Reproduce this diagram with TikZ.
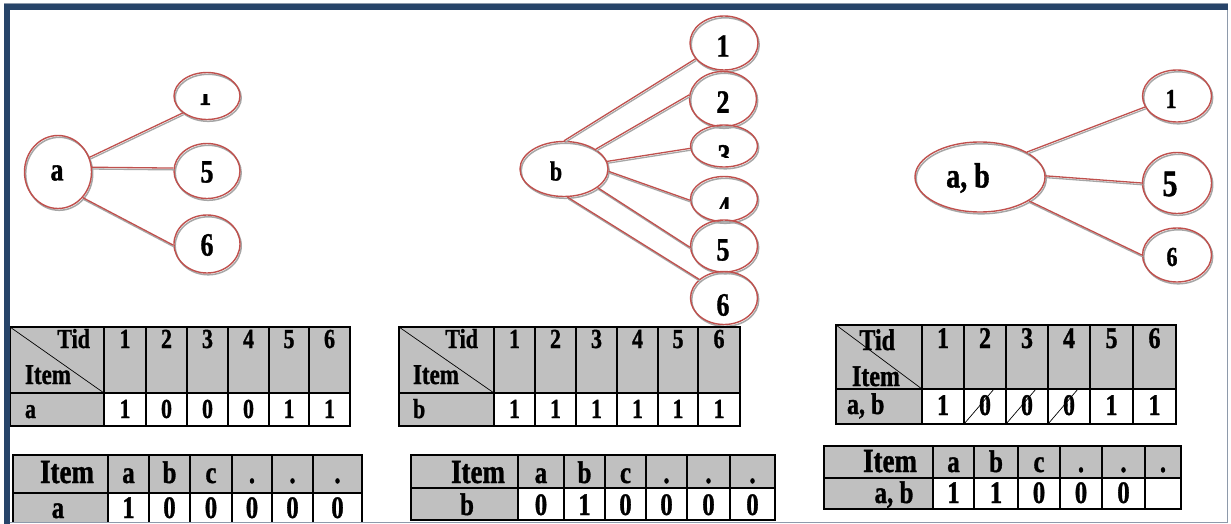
\documentclass[tikz,border=0pt]{standalone}
\usepackage{fontspec}
\setmainfont{Liberation Serif}[BoldFeatures={FakeBold=1.2}]
\usepackage{graphicx}
\usetikzlibrary{shapes.geometric}
\definecolor{nodered}{HTML}{C0504D}
\definecolor{shade}{HTML}{A6A6A6}
\definecolor{cellgray}{HTML}{C0C0C0}
\definecolor{framedark}{HTML}{274469}
\definecolor{frameline}{HTML}{8E9AAB}
% bold label, slightly stretched vertically
\newcommand\lbl[2]{\fontsize{#1}{#1}\selectfont\bfseries\scalebox{1}[1.25]{#2}}
\begin{document}
\begin{tikzpicture}[x=1pt,y=-1pt,
  bub/.style={ellipse, draw=nodered, line width=1.4pt, inner sep=0pt,
    preaction={draw=shade, line width=1.5pt, transform canvas={shift={(1.2pt,-1.8pt)}}}},
  link/.style={draw=nodered, line width=1.3pt,
    preaction={draw=shade, line width=1.3pt, transform canvas={shift={(0.8pt,-1.8pt)}}}},
  rule/.style={draw=black, line width=1.7pt},
  thinrule/.style={draw=black, line width=0.7pt},
  txt/.style={inner sep=0pt, outer sep=0pt}]
\useasboundingbox (0,0) rectangle (1231,524);
\fill[white] (0,0) rectangle (1231,524);

\begin{scope}
\clip (10,10) rectangle (1227,521.5);

% ---------- graph of item a ----------
\node[bub, minimum width=67pt, minimum height=73pt] (a) at (58,172) {};
\node[bub, minimum width=66pt, minimum height=47pt] (a1) at (207,96) {};
\node[bub, minimum width=66pt, minimum height=55pt] (a5) at (207,171) {};
\node[bub, minimum width=66pt, minimum height=58pt] (a6) at (207,244) {};
\draw[link] (a.25) -- (a1.215);
\draw[link] (a.8) -- (a5.175);
\draw[link] (a.-46) -- (a6.182);
\node[txt] (a-l) at (57,173) {\lbl{26}{a}};
\node[txt] (a5-l) at (207,172) {\lbl{26}{5}};
\node[txt] (a6-l) at (207,245) {\lbl{26}{6}};
\begin{scope}
  \clip (170,95) rectangle (240,125);
  \node[txt, anchor=base] (a1-l) at (205,105) {\lbl{25}{1}};
\end{scope}

% ---------- graph of item b ----------
\node[bub, minimum width=88pt, minimum height=55pt] (b) at (564,169) {};
\node[bub, minimum width=68pt, minimum height=54pt] (b1) at (724,43) {};
\node[bub, minimum width=67pt, minimum height=55pt] (b2) at (723,99) {};
\node[bub, minimum width=67pt, minimum height=42pt] (b3) at (724,146) {};
\node[bub, minimum width=67pt, minimum height=45pt] (b4) at (724,199) {};
\node[bub, minimum width=67pt, minimum height=52pt] (b5) at (724,246) {};
\node[bub, minimum width=67pt, minimum height=53pt] (b6) at (724,298) {};
\draw[link] (b.90) -- (b1.209);
\draw[link] (b.32) -- (b2.173);
\draw[link] (b.10) -- (b3.184);
\draw[link] (b.-3) -- (b4.182);
\draw[link] (b.-29) -- (b5.182);
\draw[link] (b.-83) -- (b6.143);
\node[txt] (b-l) at (556,171) {\lbl{22}{b}};
\node[txt] (b1-l) at (723,46) {\lbl{26}{1}};
\node[txt] (b2-l) at (723,102) {\lbl{26}{2}};
\begin{scope}
  \clip (690,140) rectangle (760,157);
  \node[txt] (b3-l) at (724,156) {\lbl{26}{3}};
\end{scope}
\begin{scope}
  \clip (690,190) rectangle (760,208);
  \node[txt] (b4-l) at (724,208) {\lbl{26}{4}};
\end{scope}
\node[txt] (b5-l) at (723,250) {\lbl{26}{5}};
\node[txt] (b6-l) at (723,305) {\lbl{26}{6}};

% ---------- graph of itemset a, b ----------
\node[bub, minimum width=130pt, minimum height=70pt] (ab) at (980,177) {};
\node[bub, minimum width=69pt, minimum height=52pt] (ab1) at (1177,96) {};
\node[bub, minimum width=69pt, minimum height=61pt] (ab5) at (1177,183) {};
\node[bub, minimum width=69pt, minimum height=54pt] (ab6) at (1177,255) {};
\draw[link] (ab.28) -- (ab1.199);
\draw[link] (ab.1) -- (ab5.180);
\draw[link] (ab.-26) -- (ab6.180);
\node[txt] (ab-l) at (968,178) {\lbl{28}{a, b}};
\node[txt] (ab1-l) at (1171,99) {\lbl{22}{1}};
\node[txt] (ab5-l) at (1170,184) {\lbl{30}{5}};
\node[txt] (ab6-l) at (1172,257) {\lbl{22}{6}};

% ---------- Tid tables ----------
% table for a
\fill[cellgray] (10,327) rectangle (350,393);
\fill[cellgray] (10,393) rectangle (104,426);
\draw[rule] (10,327) rectangle (350,426);
\draw[rule] (10,393) -- (350,393);
\foreach \x in {104,146,187,228,269,309} \draw[rule] (\x,327) -- (\x,426);
\draw[thinrule] (10,327) -- (104,393);
\node[txt, anchor=base east] (ta-tid) at (90,348) {\lbl{22}{Tid}};
\node[txt, anchor=base west] (ta-item) at (25,384) {\lbl{23}{Item}};
\node[txt, anchor=base west] (ta-row) at (25,418) {\lbl{22}{a}};
\foreach \l/\r/\lab in {104/146/1,146/187/2,187/228/3,228/269/4,269/309/5,309/350/6}
  \node[txt, anchor=base] at ({(\l+\r)/2},348) {\lbl{22}{\lab}};
\foreach \l/\r/\lab in {104/146/1,146/187/0,187/228/0,228/269/0,269/309/1,309/350/1}
  \node[txt, anchor=base] at ({(\l+\r)/2},418) {\lbl{22}{\lab}};

% table for b
\fill[cellgray] (399,327) rectangle (740,393);
\fill[cellgray] (399,393) rectangle (494,426);
\draw[rule] (399,327) rectangle (740,426);
\draw[rule] (399,393) -- (740,393);
\foreach \x in {494,535,576,617,658,698} \draw[rule] (\x,327) -- (\x,426);
\draw[thinrule] (399,327) -- (494,393);
\node[txt, anchor=base east] (tb-tid) at (478,348) {\lbl{22}{Tid}};
\node[txt, anchor=base west] (tb-item) at (413,384) {\lbl{23}{Item}};
\node[txt, anchor=base west] (tb-row) at (413,418) {\lbl{22}{b}};
\foreach \l/\r/\lab in {494/535/1,535/576/2,576/617/3,617/658/4,658/698/5,698/740/6}
  \node[txt, anchor=base] at ({(\l+\r)/2},348) {\lbl{22}{\lab}};
\foreach \l/\r/\lab in {494/535/1,535/576/1,576/617/1,617/658/1,658/698/1,698/740/1}
  \node[txt, anchor=base] at ({(\l+\r)/2},418) {\lbl{22}{\lab}};

% table for a, b
\fill[cellgray] (836,325) rectangle (1176,389);
\fill[cellgray] (836,389) rectangle (922,424);
\draw[rule] (836,325) rectangle (1176,424);
\draw[rule] (836,389) -- (1176,389);
\foreach \x in {922,964,1006,1048,1090,1133} \draw[rule] (\x,325) -- (\x,424);
\draw[thinrule] (836,325) -- (922,389);
\node[txt, anchor=base east] (tab-tid) at (895,350) {\lbl{24}{Tid}};
\node[txt, anchor=base west] (tab-item) at (852,386) {\lbl{24}{Item}};
\node[txt, anchor=base west] (tab-row) at (847,414) {\lbl{24}{a, b}};
\foreach \l/\r/\lab in {922/964/1,964/1006/2,1006/1048/3,1048/1090/4,1090/1133/5,1133/1176/6}
  \node[txt, anchor=base] at ({(\l+\r)/2},348) {\lbl{24}{\lab}};
\foreach \l/\r/\lab in {922/964/1,964/1006/0,1006/1048/0,1048/1090/0,1090/1133/1,1133/1176/1}
  \node[txt, anchor=base] at ({(\l+\r)/2},415) {\lbl{24}{\lab}};
\foreach \l in {964,1006,1048}
  \draw[thinrule] (\l,424) -- (\l+30,389);

% ---------- Item tables ----------
% row for a
\fill[cellgray] (13,455) rectangle (362,493);
\fill[cellgray] (13,493) rectangle (108,531);
\draw[rule] (13,455) rectangle (362,531);
\draw[rule] (13,493) -- (362,493);
\foreach \x in {108,149,190,232,272,313} \draw[rule] (\x,455) -- (\x,531);
\node[txt, anchor=base east] (ia-item) at (94,483) {\lbl{27}{Item}};
\node[txt, anchor=base] (ia-row) at (58,518) {\lbl{25}{a}};
\foreach \l/\r/\lab in {108/149/a,149/190/b,190/232/c,232/272/.,272/313/.,313/362/.}
  \node[txt, anchor=base] at ({(\l+\r)/2},483) {\lbl{25}{\lab}};
\foreach \l/\r/\lab in {108/149/1,149/190/0,190/232/0,232/272/0,272/313/0,313/362/0}
  \node[txt, anchor=base] at ({(\l+\r)/2},518) {\lbl{25}{\lab}};

% row for b
\fill[cellgray] (411,455) rectangle (775,488);
\fill[cellgray] (411,488) rectangle (518,520);
\draw[rule] (411,455) rectangle (775,520);
\draw[rule] (411,488) -- (775,488);
\foreach \x in {518,564,605,646,687,730} \draw[rule] (\x,455) -- (\x,520);
\node[txt, anchor=base east] (ib-item) at (505,483) {\lbl{27}{Item}};
\node[txt, anchor=base] (ib-row) at (467,515) {\lbl{25}{b}};
\foreach \l/\r/\lab in {518/564/a,564/605/b,605/646/c,646/687/.,687/730/.,730/775/.}
  \node[txt, anchor=base] at ({(\l+\r)/2},483) {\lbl{25}{\lab}};
\foreach \l/\r/\lab in {518/564/0,564/605/1,605/646/0,646/687/0,687/730/0,730/775/0}
  \node[txt, anchor=base] at ({(\l+\r)/2},515) {\lbl{25}{\lab}};

% row for a, b
\fill[cellgray] (824,446) rectangle (1181,478);
\fill[cellgray] (824,478) rectangle (933,509);
\draw[rule] (824,446) rectangle (1181,509);
\draw[rule] (824,478) -- (1181,478);
\foreach \x in {933,974,1018,1060,1102,1145} \draw[rule] (\x,446) -- (\x,509);
\node[txt, anchor=base east] (iab-item) at (917,472) {\lbl{27}{Item}};
\node[txt, anchor=base] (iab-row) at (894,503) {\lbl{25}{a, b}};
\foreach \l/\r/\lab in {933/974/a,974/1018/b,1018/1060/c,1060/1102/.,1102/1145/.,1145/1181/.}
  \node[txt, anchor=base] at ({(\l+\r)/2},472) {\lbl{25}{\lab}};
\foreach \l/\r/\lab in {933/974/1,974/1018/1,1018/1060/0,1060/1102/0,1102/1145/0}
  \node[txt, anchor=base] at ({(\l+\r)/2},503) {\lbl{25}{\lab}};
\end{scope}

% ---------- page frame ----------
\draw[frameline, line width=0.8pt] (4,3.4) -- (1228,3.4);
\draw[frameline, line width=0.9pt] (1227.5,10) -- (1227.5,522.5) -- (10,522.5);
\fill[framedark] (4,4) rectangle (1228,10);
\fill[framedark] (4,4) rectangle (10,524);
\end{tikzpicture}
\end{document}
